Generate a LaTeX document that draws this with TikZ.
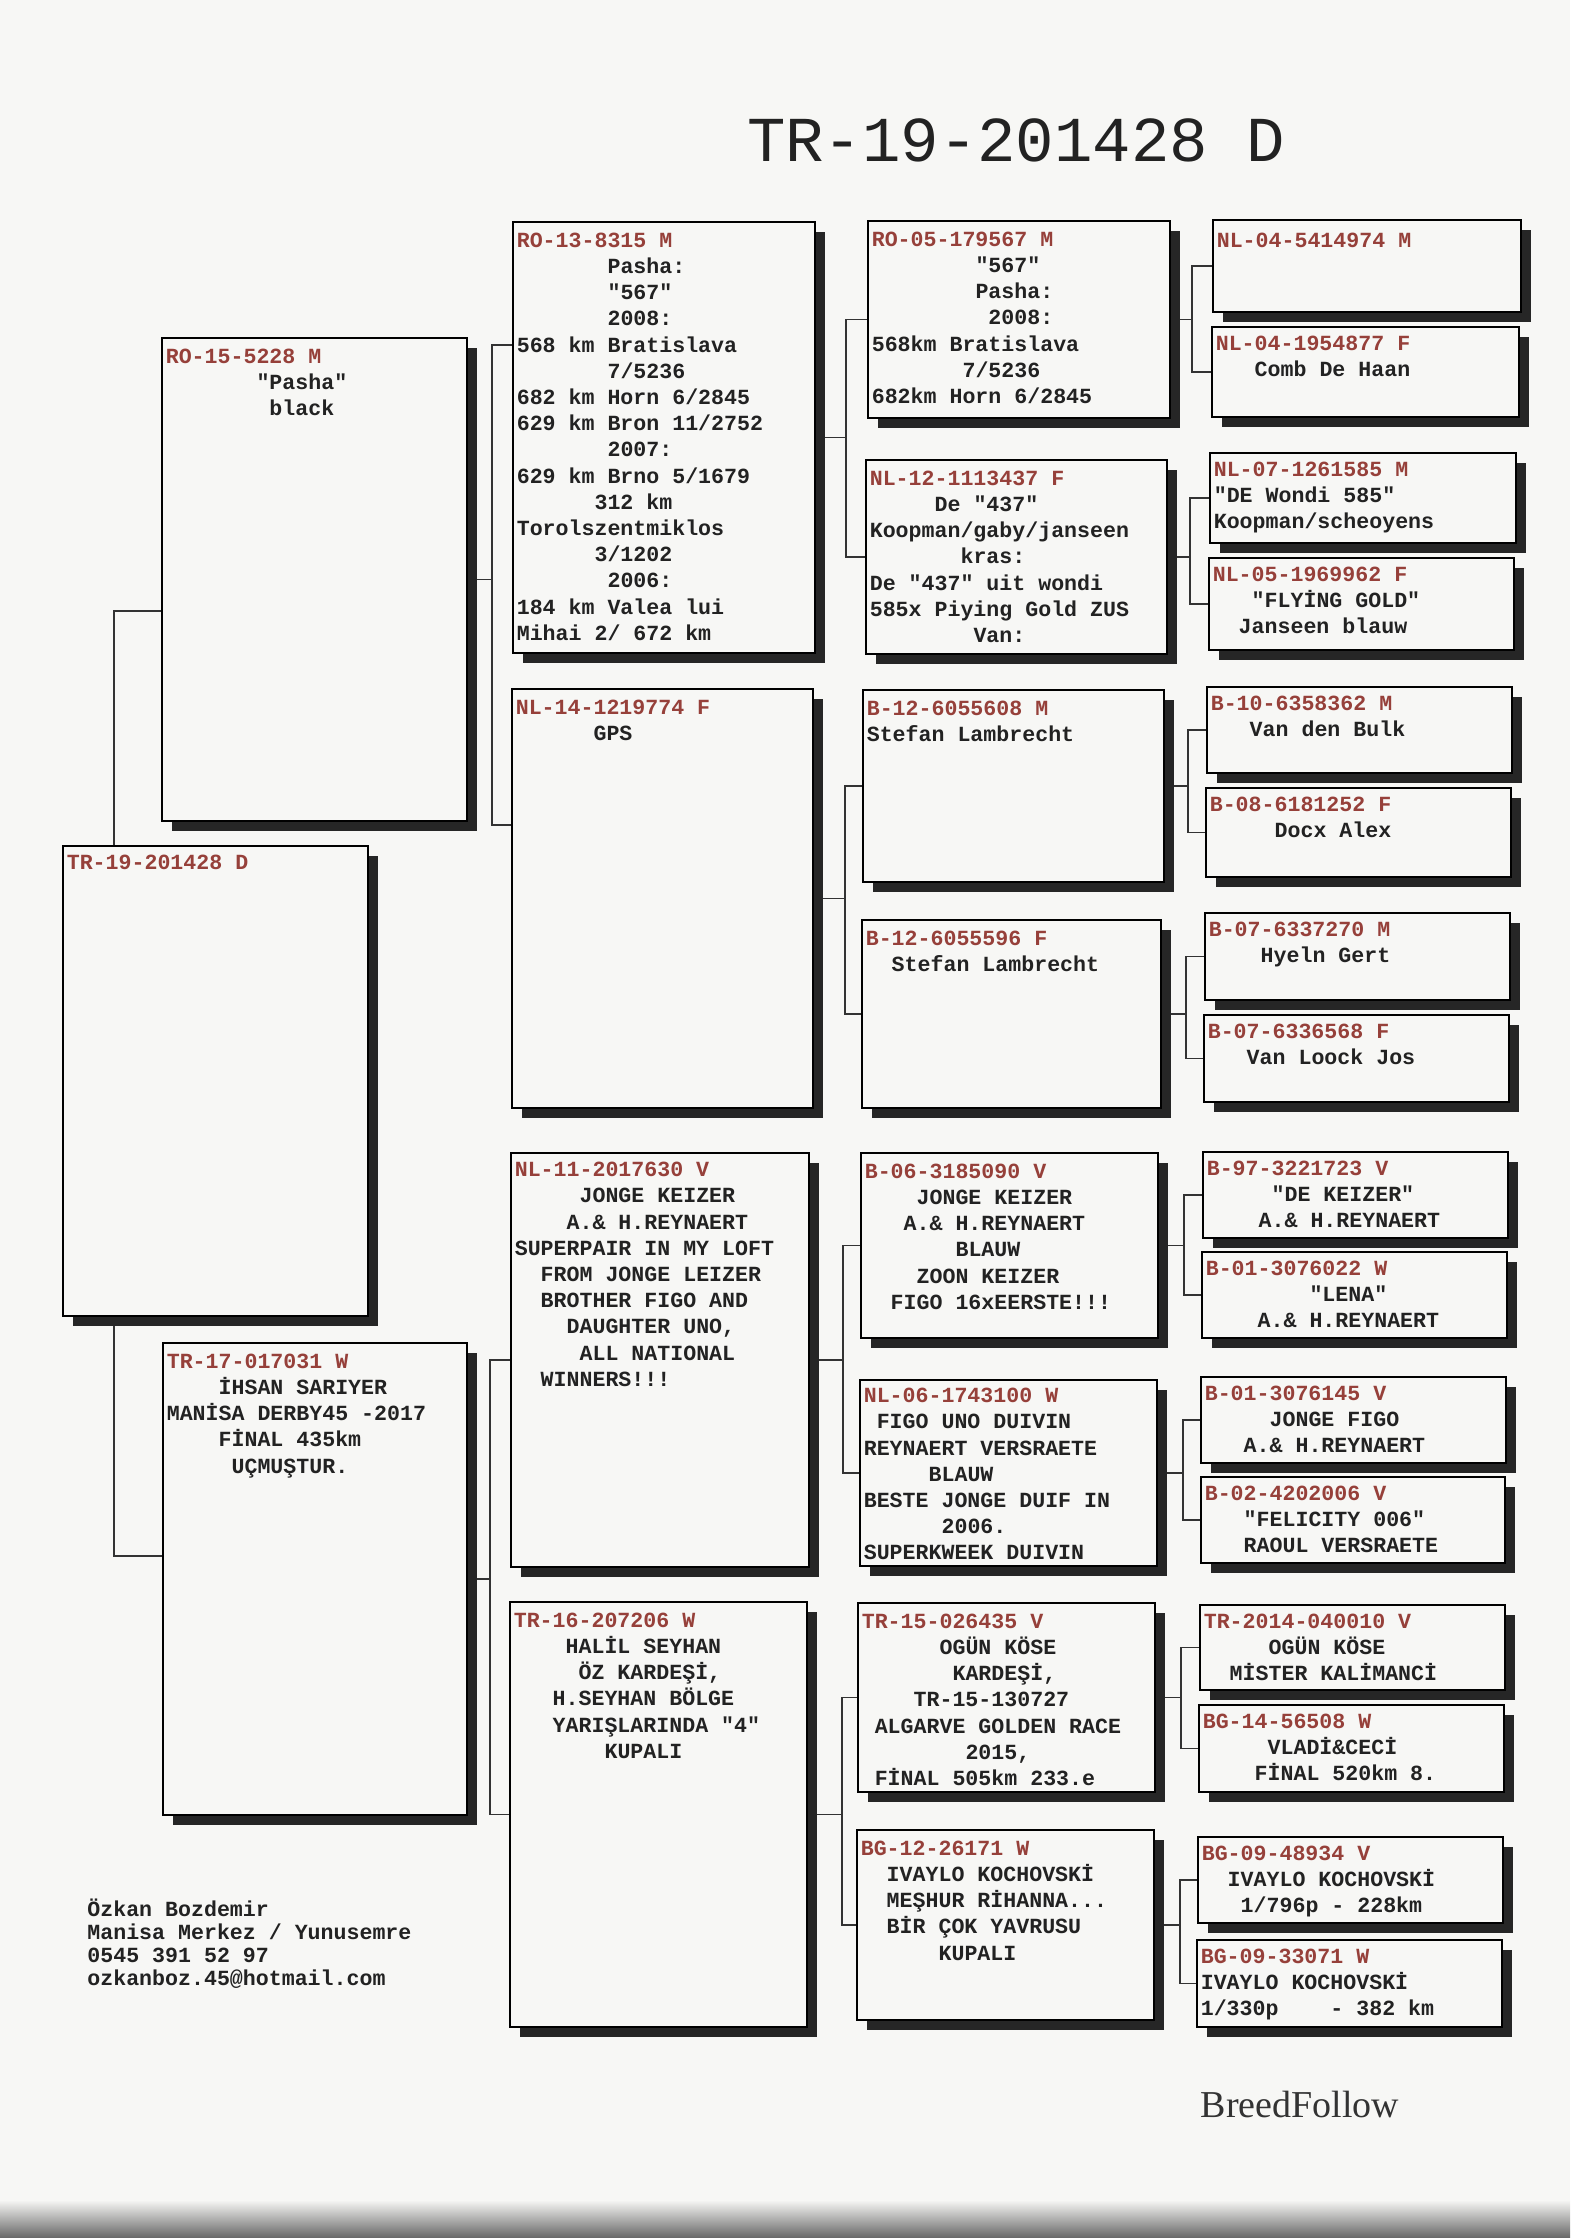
\documentclass[tikz,border=0pt]{standalone}
\usepackage{fontspec}
\setmainfont{Liberation Serif}
\setmonofont{Liberation Mono}
\usetikzlibrary{positioning,fit,shadows,backgrounds}
\definecolor{idred}{RGB}{150,64,58}
\definecolor{paper}{RGB}{247,247,245}
\definecolor{ink}{RGB}{34,34,34}
\tikzset{
  pbox/.style={draw=black,line width=1pt,fill=paper,inner sep=0pt,
               drop shadow={shadow xshift=5pt,shadow yshift=-5pt,opacity=1,fill=black!85}},
  ptext/.style={inner sep=0pt,align=left,text=ink,
                font=\fontsize{10.8}{13.1}\selectfont\ttfamily\bfseries,
                execute at begin node=\strut},
  link/.style={black!80,line width=0.7pt},
}

\begin{document}
\begin{tikzpicture}[x=0.5pt,y=-0.5pt]
  \useasboundingbox (0,0) rectangle (1570,2238);

  \node[font=\fontsize{32}{32}\selectfont\ttfamily,text=ink,anchor=base] (title) at (1016,161) {TR-19-201428 D};

  % subject and parents
  \node[pbox,fit={(63,846) (368,1316)}] (subj) {};
  \node[ptext,below right=2.9pt and 2.2pt of subj.north west] (subj-t) {\textcolor{idred}{TR-19-201428 D}};

  \node[pbox,fit={(162,338) (467,821)}] (sire) {};
  \node[ptext,below right=5.7pt and 2.2pt of sire.north west] (sire-t)
    {\textcolor{idred}{RO-15-5228 M}\\~~~~~~~"Pasha"\\~~~~~~~~black};

  \node[pbox,fit={(163,1343) (467,1815)}] (dam) {};
  \node[ptext,below right=5.7pt and 2.2pt of dam.north west] (dam-t)
    {\textcolor{idred}{TR-17-017031 W}\\~~~~İHSAN SARIYER\\MANİSA DERBY45 -2017\\~~~~FİNAL 435km\\~~~~~UÇMUŞTUR.};

  % grandparents
  \node[pbox,fit={(513,222) (815,653)}] (ss) {};
  \node[ptext,below right=5.7pt and 2.2pt of ss.north west] (ss-t)
    {\textcolor{idred}{RO-13-8315 M}\\~~~~~~~Pasha:\\~~~~~~~"567"\\~~~~~~~2008:\\568 km Bratislava\\~~~~~~~7/5236\\682 km Horn 6/2845\\629 km Bron 11/2752\\~~~~~~~2007:\\629 km Brno 5/1679\\~~~~~~312 km\\Torolszentmiklos\\~~~~~~3/1202\\~~~~~~~2006:\\184 km Valea lui\\Mihai 2/ 672 km};

  \node[pbox,fit={(512,689) (813,1108)}] (sd) {};
  \node[ptext,below right=5.7pt and 2.2pt of sd.north west] (sd-t)
    {\textcolor{idred}{NL-14-1219774 F}\\~~~~~~GPS};

  \node[pbox,fit={(511,1153) (809,1567)}] (ds) {};
  \node[ptext,below right=4.9pt and 2.2pt of ds.north west] (ds-t)
    {\textcolor{idred}{NL-11-2017630 V}\\~~~~~JONGE KEIZER\\~~~~A.\& H.REYNAERT\\SUPERPAIR IN MY LOFT\\~~FROM JONGE LEIZER\\~~BROTHER FIGO AND\\~~~~DAUGHTER UNO,\\~~~~~ALL NATIONAL\\~~WINNERS!!!};

  \node[pbox,fit={(510,1602) (807,2027)}] (dd) {};
  \node[ptext,below right=5.7pt and 2.2pt of dd.north west] (dd-t)
    {\textcolor{idred}{TR-16-207206 W}\\~~~~HALİL SEYHAN\\~~~~~ÖZ KARDEŞİ,\\~~~H.SEYHAN BÖLGE\\~~~YARIŞLARINDA "4"\\~~~~~~~KUPALI};

  % great-grandparents
  \node[pbox,fit={(868,221) (1170,418)}] (sss) {};
  \node[ptext,below right=5.7pt and 2.2pt of sss.north west] (sss-t)
    {\textcolor{idred}{RO-05-179567 M}\\~~~~~~~~"567"\\~~~~~~~~Pasha:\\~~~~~~~~~2008:\\568km Bratislava\\~~~~~~~7/5236\\682km Horn 6/2845};

  \node[pbox,fit={(866,460) (1167,654)}] (ssd) {};
  \node[ptext,below right=5.7pt and 2.2pt of ssd.north west] (ssd-t)
    {\textcolor{idred}{NL-12-1113437 F}\\~~~~~De "437"\\Koopman/gaby/janseen\\~~~~~~~kras:\\De "437" uit wondi\\585x Piying Gold ZUS\\~~~~~~~~Van:};

  \node[pbox,fit={(863,690) (1164,882)}] (sds) {};
  \node[ptext,below right=5.7pt and 2.2pt of sds.north west] (sds-t)
    {\textcolor{idred}{B-12-6055608 M}\\Stefan Lambrecht};

  \node[pbox,fit={(862,920) (1161,1108)}] (sdd) {};
  \node[ptext,below right=5.7pt and 2.2pt of sdd.north west] (sdd-t)
    {\textcolor{idred}{B-12-6055596 F}\\~~Stefan Lambrecht};

  \node[pbox,fit={(861,1153) (1158,1338)}] (dss) {};
  \node[ptext,below right=5.7pt and 2.2pt of dss.north west] (dss-t)
    {\textcolor{idred}{B-06-3185090 V}\\~~~~JONGE KEIZER\\~~~A.\& H.REYNAERT\\~~~~~~~BLAUW\\~~~~ZOON KEIZER\\~~FIGO 16xEERSTE!!!};

  \node[pbox,fit={(860,1380) (1157,1566)}] (dsd) {};
  \node[ptext,below right=4.4pt and 2.2pt of dsd.north west] (dsd-t)
    {\textcolor{idred}{NL-06-1743100 W}\\~FIGO UNO DUIVIN\\REYNAERT VERSRAETE\\~~~~~BLAUW\\BESTE JONGE DUIF IN\\~~~~~~2006.\\SUPERKWEEK DUIVIN};

  \node[pbox,fit={(858,1603) (1155,1792)}] (dds) {};
  \node[ptext,below right=5.7pt and 2.2pt of dds.north west] (dds-t)
    {\textcolor{idred}{TR-15-026435 V}\\~~~~~~OGÜN KÖSE\\~~~~~~~KARDEŞİ,\\~~~~TR-15-130727\\~ALGARVE GOLDEN RACE\\~~~~~~~~2015,\\~FİNAL 505km 233.e};

  \node[pbox,fit={(857,1830) (1154,2020)}] (ddd) {};
  \node[ptext,below right=5.7pt and 2.2pt of ddd.north west] (ddd-t)
    {\textcolor{idred}{BG-12-26171 W}\\~~IVAYLO KOCHOVSKİ\\~~MEŞHUR RİHANNA...\\~~BİR ÇOK YAVRUSU\\~~~~~~KUPALI};

  % great-great-grandparents
  \node[pbox,fit={(1213,220) (1521,312)}] (ssss) {};
  \node[ptext,below right=4.8pt and 2.2pt of ssss.north west] (ssss-t)
    {\textcolor{idred}{NL-04-5414974 M}};
  \node[pbox,fit={(1212,327) (1519,417)}] (sssd) {};
  \node[ptext,below right=4.8pt and 2.2pt of sssd.north west] (sssd-t)
    {\textcolor{idred}{NL-04-1954877 F}\\~~~Comb De Haan};
  \node[pbox,fit={(1210,453) (1516,543)}] (ssds) {};
  \node[ptext,below right=4.8pt and 2.2pt of ssds.north west] (ssds-t)
    {\textcolor{idred}{NL-07-1261585 M}\\"DE Wondi 585"\\Koopman/scheoyens};
  \node[pbox,fit={(1209,558) (1514,650)}] (ssdd) {};
  \node[ptext,below right=4.8pt and 2.2pt of ssdd.north west] (ssdd-t)
    {\textcolor{idred}{NL-05-1969962 F}\\~~~"FLYİNG GOLD"\\~~Janseen blauw};
  \node[pbox,fit={(1207,687) (1512,773)}] (sdss) {};
  \node[ptext,below right=4.8pt and 2.2pt of sdss.north west] (sdss-t)
    {\textcolor{idred}{B-10-6358362 M}\\~~~Van den Bulk};
  \node[pbox,fit={(1206,788) (1511,877)}] (sdsd) {};
  \node[ptext,below right=4.8pt and 2.2pt of sdsd.north west] (sdsd-t)
    {\textcolor{idred}{B-08-6181252 F}\\~~~~~Docx Alex};
  \node[pbox,fit={(1205,913) (1510,1000)}] (sdds) {};
  \node[ptext,below right=4.8pt and 2.2pt of sdds.north west] (sdds-t)
    {\textcolor{idred}{B-07-6337270 M}\\~~~~Hyeln Gert};
  \node[pbox,fit={(1204,1015) (1509,1102)}] (sddd) {};
  \node[ptext,below right=4.8pt and 2.2pt of sddd.north west] (sddd-t)
    {\textcolor{idred}{B-07-6336568 F}\\~~~Van Loock Jos};
  \node[pbox,fit={(1203,1152) (1508,1238)}] (dsss) {};
  \node[ptext,below right=4.8pt and 2.2pt of dsss.north west] (dsss-t)
    {\textcolor{idred}{B-97-3221723 V}\\~~~~~"DE KEIZER"\\~~~~A.\& H.REYNAERT};
  \node[pbox,fit={(1202,1252) (1507,1338)}] (dssd) {};
  \node[ptext,below right=4.8pt and 2.2pt of dssd.north west] (dssd-t)
    {\textcolor{idred}{B-01-3076022 W}\\~~~~~~~~"LENA"\\~~~~A.\& H.REYNAERT};
  \node[pbox,fit={(1201,1377) (1506,1463)}] (dsds) {};
  \node[ptext,below right=4.8pt and 2.2pt of dsds.north west] (dsds-t)
    {\textcolor{idred}{B-01-3076145 V}\\~~~~~JONGE FIGO\\~~~A.\& H.REYNAERT};
  \node[pbox,fit={(1201,1477) (1505,1563)}] (dsdd) {};
  \node[ptext,below right=4.8pt and 2.2pt of dsdd.north west] (dsdd-t)
    {\textcolor{idred}{B-02-4202006 V}\\~~~"FELICITY 006"\\~~~RAOUL VERSRAETE};
  \node[pbox,fit={(1200,1605) (1505,1690)}] (ddss) {};
  \node[ptext,below right=4.8pt and 2.2pt of ddss.north west] (ddss-t)
    {\textcolor{idred}{TR-2014-040010 V}\\~~~~~OGÜN KÖSE\\~~MİSTER KALİMANCİ};
  \node[pbox,fit={(1199,1705) (1504,1792)}] (ddsd) {};
  \node[ptext,below right=4.8pt and 2.2pt of ddsd.north west] (ddsd-t)
    {\textcolor{idred}{BG-14-56508 W}\\~~~~~VLADİ\&CECİ\\~~~~FİNAL 520km 8.};
  \node[pbox,fit={(1198,1837) (1503,1923)}] (ddds) {};
  \node[ptext,below right=4.8pt and 2.2pt of ddds.north west] (ddds-t)
    {\textcolor{idred}{BG-09-48934 V}\\~~IVAYLO KOCHOVSKİ\\~~~1/796p - 228km};
  \node[pbox,fit={(1197,1940) (1502,2027)}] (dddd) {};
  \node[ptext,below right=4.8pt and 2.2pt of dddd.north west] (dddd-t)
    {\textcolor{idred}{BG-09-33071 W}\\IVAYLO KOCHOVSKİ\\1/330p~~~~- 382 km};

  % owner and brand
  \node[ptext,font=\fontsize{10.8}{11.5}\selectfont\ttfamily\bfseries,anchor=north west] (owner) at (87,1899)
    {Özkan Bozdemir\\Manisa Merkez / Yunusemre\\0545 391 52 97\\ozkanboz.45@hotmail.com};
  \node[font=\fontsize{19}{19}\selectfont,text=black!80,anchor=base] (brand) at (1300,2117) {BreedFollow};

  \begin{scope}[on background layer]
    \fill[paper] (0,0) rectangle (1570,2238);
    \shade[top color=paper,bottom color=black!60] (0,2200) rectangle (1570,2238);
    \draw[link] (sire.west |- 0,611) -| (subj.center -| 114,0) |- (dam.west |- 0,1556);
    \draw[link] (ss.west |- 0,345) -| (sire.east -| 492,0) |- (sd.west |- 0,825)
      (sire.east) -- (sire.east -| 492,0);
    \foreach \p/\a/\b/\x in {dam/ds/dd/490,ss/sss/ssd/846,sd/sds/sdd/845,ds/dss/dsd/843,dd/dds/ddd/842,
        sss/ssss/sssd/1192,ssd/ssds/ssdd/1190,sds/sdss/sdsd/1188,sdd/sdds/sddd/1186,
        dss/dsss/dssd/1184,dsd/dsds/dsdd/1183,dds/ddss/ddsd/1181,ddd/ddds/dddd/1180}{
      \draw[link] (\a.west) -| (\p.east -| \x,0) |- (\b.west) (\p.east) -- (\p.east -| \x,0);
    }
  \end{scope}
\end{tikzpicture}
\end{document}
